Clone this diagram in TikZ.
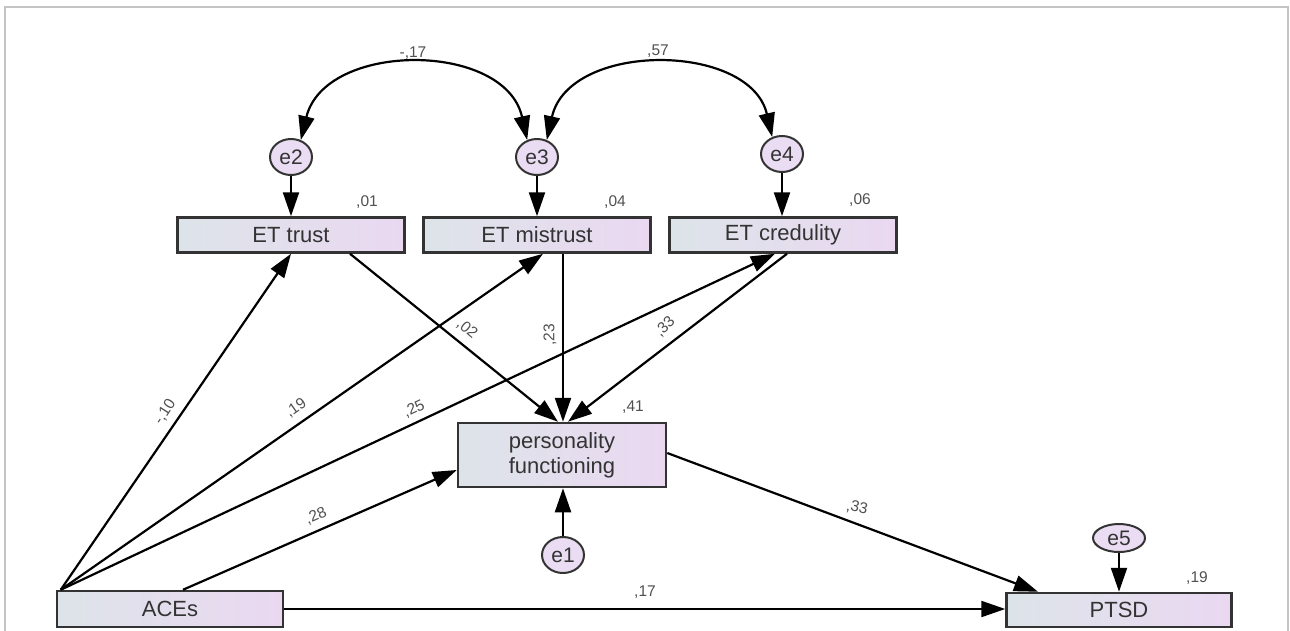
\documentclass[tikz,border=0pt]{standalone}
\usepackage{fontspec}
\setmainfont{Liberation Sans}
\usetikzlibrary{arrows.meta,shapes.geometric}
\definecolor{boxl}{HTML}{DDE4E9}
\definecolor{boxr}{HTML}{EAD8F1}
\definecolor{efill}{HTML}{EADDF3}
\definecolor{edgec}{HTML}{333333}
\definecolor{labc}{HTML}{505050}
\definecolor{framec}{HTML}{C4C4C4}
\begin{document}
\begin{tikzpicture}[x=1pt,y=-1pt,
  obs/.style={draw=edgec, line width=2.5pt, left color=boxl, right color=boxr,
    minimum width=227pt, minimum height=35pt, inner sep=0pt,
    font=\fontsize{22}{25}\selectfont, text=edgec},
  err/.style={ellipse, draw=edgec, line width=2pt, fill=efill,
    minimum width=42pt, minimum height=36pt, inner sep=0pt,
    font=\fontsize{21}{21}\selectfont, text=edgec},
  reg/.style={draw=black, line width=2.2pt, -{Triangle[length=24pt,width=16pt]}},
  dbl/.style={draw=black, line width=2.2pt, {Triangle[length=24pt,width=16pt]}-{Triangle[length=24pt,width=16pt]}},
  wl/.style={font=\fontsize{15.5}{15.5}\selectfont, text=labc, inner sep=0pt}]
\useasboundingbox (0,0) rectangle (1290,630);
\draw[framec, line width=2pt] (5,632) -- (5,7) -- (1288,7) -- (1288,632);

% observed variables
\node[obs] (trust) at (291,235) {ET trust};
\node[obs] (mis) at (537,235) {ET mistrust};
\node[obs] (cred) at (783,235) {ET credulity};
\node[obs, minimum width=208pt, minimum height=64pt, align=center] (pf) at (562,455) {personality\\functioning};
\node[obs, minimum width=226pt, minimum height=36pt] (aces) at (170,609) {ACEs};
\node[obs, minimum width=225pt, minimum height=34pt] (ptsd) at (1119,610) {PTSD};

% error terms
\node[err] (e2) at (291,157) {e2};
\node[err] (e3) at (537,157) {e3};
\node[err] (e4) at (782,154) {e4};
\node[err] (e1) at (563,555) {e1};
\node[err, minimum width=52pt, minimum height=28pt] (e5) at (1119,538) {e5};

% error arrows
\draw[reg] (e2) -- (trust);
\draw[reg] (e3) -- (mis);
\draw[reg] (e4.south) -- (e4.south |- cred.north);
\draw[reg] (e1.north) -- (e1.north |- pf.south);
\draw[reg] (e5) -- (ptsd);

% covariances
\draw[dbl] (e2.60) .. controls +(24,-99) and +(-22,-99) .. (e3.120);
\draw[dbl] (e3.60) .. controls +(22,-99) and +(-22,-95) .. (e4.120);

% paths from ACEs
\coordinate (a0) at ([xshift=5pt]aces.north west);
\draw[reg] (a0) -- (trust.south);
\draw[reg] (a0) -- ([xshift=6pt]mis.south);
\draw[reg] (a0) -- ([xshift=-8pt]cred.south);
\draw[reg] ([xshift=13pt]aces.north) -- ([yshift=-15pt]pf.west);
\draw[reg] (aces.east) -- (aces.east -| ptsd.west);

% paths to personality functioning
\draw[reg] ([xshift=59pt]trust.south) -- ([xshift=-4pt]pf.north);
\draw[reg] ([xshift=26pt]mis.south) -- ([xshift=26pt]mis.south |- pf.north);
\draw[reg] ([xshift=4pt]cred.south) -- ([xshift=6pt]pf.north);
\draw[reg] ([yshift=2pt]pf.east) -- ([xshift=-81pt]ptsd.north);

% labels
\node[wl] (l1) at (413,53) {-,17};
\node[wl] (l2) at (658,51) {,57};
\node[wl] (l3) at (367,202) {,01};
\node[wl] (l4) at (615,202) {,04};
\node[wl] (l5) at (860,200) {,06};
\node[wl] (l6) at (633,407) {,41};
\node[wl] (l7) at (645,592) {,17};
\node[wl] (l8) at (1197,578) {,19};
\node[wl, rotate=57] (l9) at (165,412) {-,10};
\node[wl, rotate=35] (l10) at (296,408) {,19};
\node[wl, rotate=25] (l11) at (414,409) {,25};
\node[wl, rotate=24] (l12) at (316,516) {,28};
\node[wl, rotate=-40] (l13) at (467,329) {,02};
\node[wl, rotate=90] (l14) at (550,335) {,23};
\node[wl, rotate=45] (l15) at (665,327) {,33};
\node[wl, rotate=-12] (l16) at (857,508) {,33};
\end{tikzpicture}
\end{document}
